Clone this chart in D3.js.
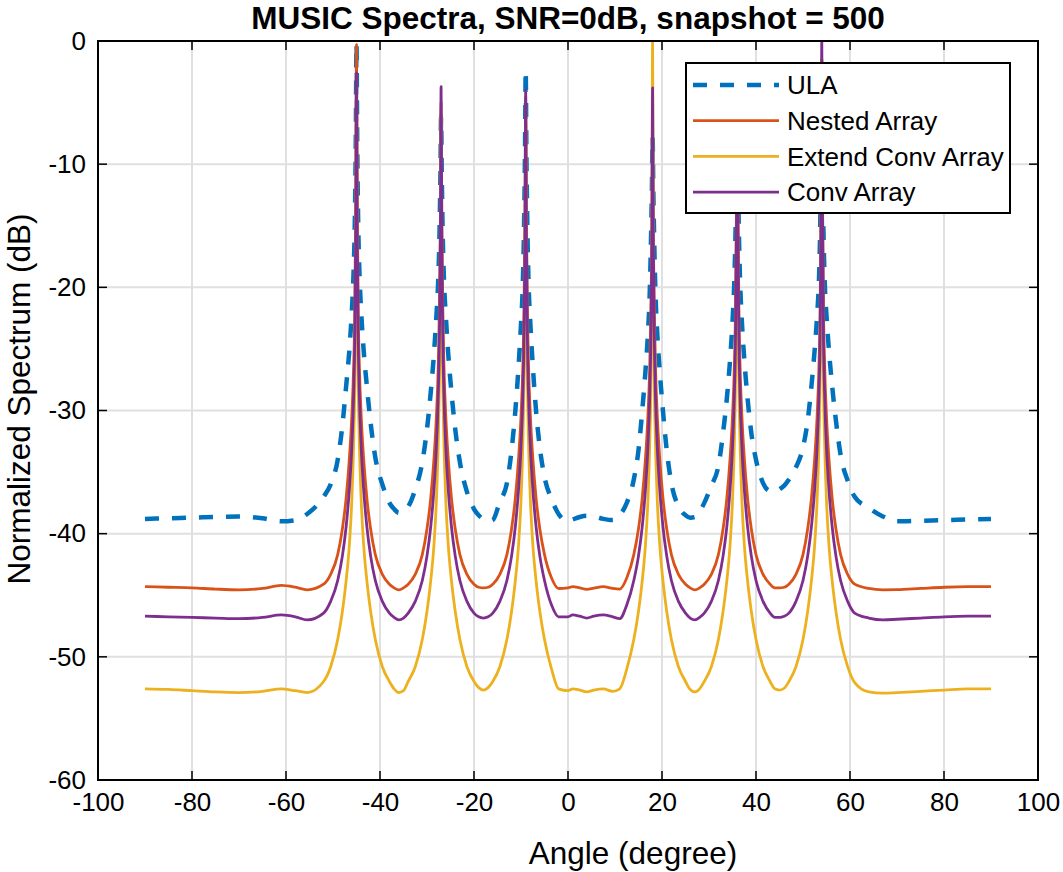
<!DOCTYPE html>
<html><head><meta charset="utf-8">
<script src="https://cdn.jsdelivr.net/npm/d3@7"></script>
<style>body{margin:0;background:#fff}svg{display:block;font-family:"Liberation Sans",Arial,Helvetica,sans-serif}</style>
</head><body><svg id="c" width="1063" height="872"></svg>
<script>
const angles = [
-90,-85,-80,-75,-70,-65,-61,-58,-55.5,
-52,-50.5,-49,-48,-47.2,-46.5,-46,-45.6,-45.35,-45.15,-45,-44.85,-44.65,-44.4,-44,-43.5,-42.8,-42,-41,-39.5,-38,
-37,-36,-35,
-34,-32.5,-31,-30,-29.2,-28.5,-28,-27.6,-27.35,-27.15,-27,-26.85,-26.65,-26.4,-26,-25.5,-24.8,-24,-23,-21.5,-20,
-19,-18,-17,
-16,-14.5,-13,-12,-11.2,-10.5,-10,-9.6,-9.35,-9.15,-9,-8.85,-8.65,-8.4,-8,-7.5,-6.8,-6,-5,-3.5,-2,
0,1,2.5,4,5.5,7.5,9.5,
11,12.5,14,15,15.8,16.5,17,17.4,17.65,17.85,18,18.15,18.35,18.6,19,19.5,20.2,21,22,23.5,25,
26,27,28,
29,30.5,32,33,33.8,34.5,35,35.4,35.65,35.85,36,36.15,36.35,36.6,37,37.5,38.2,39,40,41.5,43,
44,45,46,
47,48.5,50,51,51.8,52.5,53,53.4,53.65,53.85,54,54.15,54.35,54.6,55,55.5,56.2,57,58,59.5,61,
64,67,70,75,80,85,90];

const ula = [
-38.8,-38.75,-38.7,-38.65,-38.6,-38.75,-39.0,-38.9,-38.4,
-37.0,-36.0,-34.0,-31.2,-28,-25,-22,-18.5,-14.5,-8,-0.2,-8,-14.5,-18.5,-22,-25,-28,-31,-33.8,-36.0,-37.5,
-38.0,-38.3,-38.2,
-37.8,-36.4,-34.2,-31.5,-28.5,-25.3,-22.3,-19.3,-15.8,-11,-6.2,-11,-15.8,-19.3,-22.3,-25.3,-28.5,-31.5,-34.2,-36.6,-38.0,
-38.5,-38.8,-39.0,
-38.9,-37.4,-35.9,-33.2,-30,-26.3,-23,-19.5,-15,-9,-2.4,-9,-15,-19.5,-23,-26.3,-30,-33,-35.4,-37.2,-38.4,
-39.0,-38.85,-38.65,-38.55,-38.6,-38.8,-38.9,
-38.5,-37.5,-35.6,-33.2,-30,-26.7,-23.8,-20.3,-16.3,-12,-7.8,-12,-16.3,-20.3,-23.8,-26.7,-30,-33.2,-35.9,-37.8,-38.5,
-38.7,-38.65,-38.2,
-37.5,-36.1,-34.5,-31.8,-29,-25.8,-22.8,-19.3,-15.3,-10,-4,-10,-15.3,-19.3,-22.8,-25.8,-29,-31.8,-34,-35.9,-36.55,
-36.6,-36.4,-36.1,
-35.6,-34.6,-33.0,-30.8,-28,-25,-22.3,-19.3,-15.3,-9,-3,-9,-15.3,-19.3,-22.3,-25,-28,-30.8,-33.6,-35.7,-37.0,
-37.9,-38.6,-39.0,-38.95,-38.9,-38.85,-38.8];

const nested = [
-44.3,-44.35,-44.4,-44.5,-44.56,-44.45,-44.2,-44.35,-44.56,
-44.1,-43.3,-41.7,-39.6,-37.1,-33.8,-30.5,-26.3,-21.5,-12,-0.3,-12,-21.5,-26.3,-30.5,-33.8,-37.1,-39.6,-41.7,-43.3,-44.1,
-44.4,-44.56,-44.4,
-44.1,-43.3,-41.7,-39.6,-37.1,-33.8,-30.5,-26.3,-21.5,-14.5,-5,-14.5,-21.5,-26.3,-30.5,-33.8,-37.1,-39.6,-41.7,-43.3,-44.1,
-44.35,-44.4,-44.35,
-44.1,-43.3,-41.7,-39.6,-37.1,-33.8,-30.5,-26.3,-21.5,-14,-4.5,-14,-21.5,-26.3,-30.5,-33.8,-37.1,-39.6,-41.7,-43.6,-44.45,
-44.4,-44.3,-44.4,-44.52,-44.42,-44.3,-44.45,
-44.5,-43.6,-41.7,-39.6,-37.1,-33.8,-30.5,-26.3,-21.5,-16,-9,-16,-21.5,-26.3,-30.5,-33.8,-37.1,-39.6,-41.7,-43.3,-44.1,
-44.4,-44.56,-44.4,
-44.1,-43.3,-41.7,-39.6,-37.1,-33.8,-30.5,-26.3,-21.5,-13,-3,-13,-21.5,-26.3,-30.5,-33.8,-37.1,-39.6,-41.7,-43.3,-44.1,
-44.4,-44.4,-44.35,
-44.1,-43.3,-41.7,-39.6,-37.1,-33.8,-30.5,-26.3,-21.5,-12.5,-1.5,-12.5,-21.5,-26.3,-30.5,-33.8,-37.1,-39.6,-41.7,-43.3,-44.1,
-44.45,-44.56,-44.55,-44.45,-44.35,-44.3,-44.3];

const extendConv = [
-52.6,-52.65,-52.75,-52.85,-52.9,-52.8,-52.6,-52.75,-52.9,
-52.0,-50.8,-48.6,-46.3,-43.8,-40.8,-37.3,-32.5,-27.5,-18,-3.5,-18,-27.5,-32.5,-37.3,-40.8,-43.8,-46.3,-48.6,-50.8,-52.0,
-52.6,-52.9,-52.75,
-52.0,-50.8,-48.6,-46.3,-43.8,-40.8,-37.3,-32.5,-27.5,-20,-6,-20,-27.5,-32.5,-37.3,-40.8,-43.8,-46.3,-48.6,-50.8,-52.0,
-52.5,-52.7,-52.5,
-52.0,-50.8,-48.6,-46.3,-43.8,-40.8,-37.3,-32.5,-27.5,-20,-5.5,-20,-27.5,-32.5,-37.3,-40.8,-43.8,-46.3,-48.6,-51.0,-52.6,
-52.75,-52.6,-52.7,-52.85,-52.7,-52.6,-52.8,
-52.6,-51.0,-48.6,-46.3,-43.8,-40.8,-37.3,-32.5,-27.5,-17,0,-17,-27.5,-32.5,-37.3,-40.8,-43.8,-46.3,-48.6,-50.8,-52.0,
-52.65,-52.85,-52.6,
-52.0,-50.8,-48.6,-46.3,-43.8,-40.8,-37.3,-32.5,-27.5,-19,-4,-19,-27.5,-32.5,-37.3,-40.8,-43.8,-46.3,-48.6,-50.8,-52.0,
-52.6,-52.7,-52.55,
-52.0,-50.8,-48.6,-46.3,-43.8,-40.8,-37.3,-32.5,-27.5,-18,-1.5,-18,-27.5,-32.5,-37.3,-40.8,-43.8,-46.3,-48.6,-50.8,-52.1,
-52.85,-52.95,-52.9,-52.8,-52.7,-52.6,-52.6];

const conv = [
-46.7,-46.75,-46.8,-46.85,-46.9,-46.8,-46.6,-46.75,-47.0,
-46.45,-45.5,-43.8,-41.8,-39.4,-36.3,-33,-28.7,-23.8,-15,-2.6,-15,-23.8,-28.7,-33,-36.3,-39.4,-41.8,-43.8,-45.5,-46.45,
-46.8,-47.0,-46.85,
-46.45,-45.5,-43.8,-41.8,-39.4,-36.3,-33,-28.7,-23.8,-16,-3.7,-16,-23.8,-28.7,-33,-36.3,-39.4,-41.8,-43.8,-45.5,-46.45,
-46.75,-46.85,-46.75,
-46.45,-45.5,-43.8,-41.8,-39.4,-36.3,-33,-28.7,-23.8,-16,-4,-16,-23.8,-28.7,-33,-36.3,-39.4,-41.8,-43.8,-45.8,-46.75,
-46.75,-46.6,-46.7,-46.85,-46.7,-46.6,-46.75,
-46.9,-45.8,-43.8,-41.8,-39.4,-36.3,-33,-28.7,-23.8,-16,-3.8,-16,-23.8,-28.7,-33,-36.3,-39.4,-41.8,-43.8,-45.5,-46.45,
-46.85,-47.0,-46.8,
-46.45,-45.5,-43.8,-41.8,-39.4,-36.3,-33,-28.7,-23.8,-15,-2.5,-15,-23.8,-28.7,-33,-36.3,-39.4,-41.8,-43.8,-45.5,-46.45,
-46.8,-46.8,-46.7,
-46.45,-45.5,-43.8,-41.8,-39.4,-36.3,-33,-28.7,-23.8,-14,0,-14,-23.8,-28.7,-33,-36.3,-39.4,-41.8,-43.8,-45.5,-46.45,
-46.85,-47.0,-46.95,-46.85,-46.75,-46.7,-46.7];

const xTicks = [-100,-80,-60,-40,-20,0,20,40,60,80,100];
const yTicks = [0,-10,-20,-30,-40,-50,-60];
const seriesNames = ["ULA","Nested Array","Extend Conv Array","Conv Array"];
const seriesColors = ["#0072BD","#D95319","#EDB120","#7E2F8E"];
const seriesData = [ula, nested, extendConv, conv];
const titleText = "MUSIC Spectra, SNR=0dB, snapshot = 500";
const xLabel = "Angle (degree)";
const yLabel = "Normalized Spectrum (dB)";

const L = 98, R = 1038, T = 41, B = 780;
const FONT = "Liberation Sans, Arial, sans-serif";
const svg = d3.select("#c");
const x = d3.scaleLinear().domain([-100,100]).range([L,R]);
const y = d3.scaleLinear().domain([-60,0]).range([B,T]);

// grid
const g = svg.append("g");
g.selectAll(".gx").data(xTicks.slice(1,-1)).enter().append("line")
  .attr("x1",d=>x(d)).attr("x2",d=>x(d)).attr("y1",T).attr("y2",B)
  .attr("stroke","#e0e0e0").attr("stroke-width",2);
g.selectAll(".gy").data(yTicks.slice(1,-1)).enter().append("line")
  .attr("x1",L).attr("x2",R).attr("y1",d=>y(d)).attr("y2",d=>y(d))
  .attr("stroke","#e0e0e0").attr("stroke-width",2);

svg.append("defs").append("clipPath").attr("id","clip").append("rect")
  .attr("x",L).attr("y",T).attr("width",R-L).attr("height",B-T);

const line = d3.line().x((d,i)=>x(angles[i])).y(d=>y(d)).curve(d3.curveMonotoneX);
const lines = svg.append("g").attr("clip-path","url(#clip)");
seriesData.forEach((s,k)=>{
  lines.append("path").attr("d",line(s)).attr("fill","none")
    .attr("stroke",seriesColors[k])
    .attr("stroke-width",k===0?4.5:2.8)
    .attr("stroke-dasharray",k===0?"14,13":null)
    .attr("stroke-linejoin","round");
});

// axes (labels via d3 axes, ticks drawn inward)
const tl = 9;
const fmt = d => String(d);
const xa = svg.append("g").attr("transform",`translate(0,${B})`)
  .call(d3.axisBottom(x).tickValues(xTicks).tickSize(0).tickPadding(13).tickFormat(fmt));
xa.select(".domain").remove();
xa.selectAll("text").attr("font-size",26).attr("fill","#000").attr("font-family",FONT);
const ya = svg.append("g").attr("transform",`translate(${L},0)`)
  .call(d3.axisLeft(y).tickValues(yTicks).tickSize(0).tickPadding(12).tickFormat(fmt));
ya.select(".domain").remove();
ya.selectAll("text").attr("font-size",26).attr("fill","#000").attr("font-family",FONT);

const tk = svg.append("g").attr("stroke","#000").attr("stroke-width",1.5);
xTicks.forEach(v=>{
  tk.append("line").attr("x1",x(v)).attr("x2",x(v)).attr("y1",B).attr("y2",B-tl);
  tk.append("line").attr("x1",x(v)).attr("x2",x(v)).attr("y1",T).attr("y2",T+tl);
});
yTicks.forEach(v=>{
  tk.append("line").attr("x1",L).attr("x2",L+tl).attr("y1",y(v)).attr("y2",y(v));
  tk.append("line").attr("x1",R).attr("x2",R-tl).attr("y1",y(v)).attr("y2",y(v));
});
svg.append("rect").attr("x",L).attr("y",T).attr("width",R-L).attr("height",B-T)
  .attr("fill","none").attr("stroke","#000").attr("stroke-width",2);

// title & labels
svg.append("text").attr("x",(L+R)/2).attr("y",29).attr("text-anchor","middle")
  .attr("font-size",31.5).attr("font-weight","bold").text(titleText);
svg.append("text").attr("x",633).attr("y",864).attr("text-anchor","middle")
  .attr("font-size",31.5).text(xLabel);
svg.append("text").attr("transform",`translate(30,399) rotate(-90)`).attr("text-anchor","middle")
  .attr("font-size",31.5).text(yLabel);

// legend
const lg = svg.append("g");
lg.append("rect").attr("x",686).attr("y",63).attr("width",324).attr("height",150)
  .attr("fill","#fff").attr("stroke","#000").attr("stroke-width",2);
seriesNames.forEach((n,k)=>{
  const yy = 85 + k*35.7;
  lg.append("line").attr("x1",693).attr("x2",779).attr("y1",yy).attr("y2",yy)
    .attr("stroke",seriesColors[k]).attr("stroke-width",k===0?4.5:2.8)
    .attr("stroke-dasharray",k===0?"14,13":null);
  lg.append("text").attr("x",787).attr("y",yy).attr("dy","0.35em").attr("font-size",26).text(n);
});
</script></body></html>
